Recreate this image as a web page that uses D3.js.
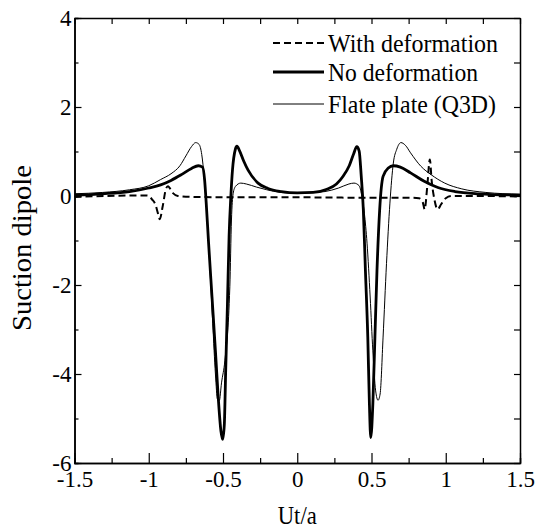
<!DOCTYPE html>
<html>
<head>
<meta charset="utf-8">
<title>Suction dipole</title>
<script src="https://cdn.jsdelivr.net/npm/d3@7"></script>
<style>
  body { margin: 0; background: #fff; }
</style>
</head>
<body>
<script>
// values
var withDefX = [-1.5, -1.3, -1.08, -1.01, -0.977, -0.954, -0.938, -0.926, -0.906, -0.885, -0.871, -0.839, -0.804, -0.712, -0.4, 0, 0.5, 0.76, 0.82, 0.845, 0.858, 0.875, 0.893, 0.905, 0.925, 0.945, 0.97, 1.0, 1.04, 1.22, 1.5];
var withDefY = [-0.02, 0.0, 0.01, 0.01, -0.08, -0.2, -0.39, -0.52, -0.23, 0.15, 0.22, 0.07, 0.0, -0.02, -0.03, -0.03, -0.04, -0.04, -0.05, -0.14, -0.3, 0.2, 0.82, 0.35, -0.1, -0.3, -0.18, -0.05, 0.0, 0.0, -0.01];

var noDefX = [-1.5, -1.31, -1.13, -1.0, -0.92, -0.85, -0.78, -0.712, -0.666, -0.638, -0.624, -0.613, -0.597, -0.574, -0.551, -0.532, -0.514, -0.502, -0.491, -0.482, -0.47, -0.459, -0.447, -0.436, -0.417, -0.406, -0.389, -0.36, -0.331, -0.264, -0.197, -0.107, 0, 0.107, 0.2, 0.264, 0.31, 0.35, 0.38, 0.401, 0.417, 0.431, 0.445, 0.459, 0.475, 0.486, 0.495, 0.509, 0.523, 0.537, 0.555, 0.578, 0.613, 0.647, 0.694, 0.763, 0.855, 0.947, 1.062, 1.223, 1.5];
var noDefY = [0.02, 0.05, 0.1, 0.18, 0.25, 0.35, 0.48, 0.62, 0.68, 0.65, 0.37, -0.16, -1.06, -2.27, -3.48, -4.53, -5.28, -5.47, -5.13, -3.93, -2.42, -0.91, 0.0, 0.59, 1.05, 1.12, 1.02, 0.78, 0.58, 0.29, 0.17, 0.1, 0.07, 0.08, 0.15, 0.27, 0.45, 0.68, 0.95, 1.11, 1.01, 0.44, -0.31, -1.67, -3.17, -4.68, -5.43, -4.68, -3.17, -1.67, -0.31, 0.44, 0.63, 0.68, 0.65, 0.52, 0.33, 0.19, 0.1, 0.05, 0.02];

var flatX = [-1.5, -1.31, -1.13, -1.0, -0.92, -0.85, -0.79, -0.75, -0.712, -0.684, -0.661, -0.643, -0.627, -0.613, -0.592, -0.569, -0.551, -0.537, -0.525, -0.51, -0.487, -0.454, -0.443, -0.432, -0.415, -0.38, -0.343, -0.274, -0.205, -0.113, 0, 0.071, 0.187, 0.279, 0.348, 0.382, 0.417, 0.433, 0.452, 0.47, 0.491, 0.509, 0.528, 0.544, 0.558, 0.578, 0.601, 0.624, 0.647, 0.67, 0.698, 0.728, 0.763, 0.832, 0.901, 0.993, 1.108, 1.27, 1.5];
var flatY = [0.05, 0.08, 0.14, 0.23, 0.37, 0.5, 0.68, 0.9, 1.11, 1.2, 1.16, 0.93, 0.44, -0.16, -1.37, -2.87, -4.0, -4.57, -4.6, -4.2, -3.69, -2.04, -0.54, 0.05, 0.22, 0.29, 0.27, 0.2, 0.14, 0.08, 0.06, 0.07, 0.1, 0.18, 0.27, 0.29, 0.23, 0.03, -0.39, -1.06, -2.27, -3.48, -4.38, -4.59, -4.45, -3.17, -1.52, -0.16, 0.74, 1.05, 1.2, 1.14, 0.97, 0.67, 0.48, 0.29, 0.16, 0.08, 0.04];

var seriesNames = ["With deformation", "No deformation", "Flate plate (Q3D)"];
var xMajor = [-1.5, -1, -0.5, 0, 0.5, 1, 1.5];
var xMinor = [-1.25, -0.75, -0.25, 0.25, 0.75, 1.25];
var yMajor = [-6, -4, -2, 0, 2, 4];
var yMinor = [-5, -3, -1, 1, 3];

var serif = "Liberation Serif";

// dimensions
var margin = {top: 18, right: 15, bottom: 65, left: 74.5},
    width = 535 - margin.left - margin.right,
    height = 528 - margin.top - margin.bottom;

var x = d3.scaleLinear().domain([-1.5, 1.5]).range([0, width]);
var y = d3.scaleLinear().domain([-6, 4]).range([height, 0]);

var svg = d3.select("body").append("svg")
    .attr("width", 535)
    .attr("height", 528)
    .attr("font-family", serif)
  .append("g")
    .attr("transform", "translate(" + margin.left + "," + margin.top + ")");

svg.append("clipPath").attr("id", "clip")
  .append("rect").attr("width", width).attr("height", height);

function zip(xs, ys) { return xs.map(function (v, i) { return [v, ys[i]]; }); }

var line = d3.line()
    .x(function (d) { return x(d[0]); })
    .y(function (d) { return y(d[1]); })
    .curve(d3.curveMonotoneX);

var styles = [
  {w: 2, dash: "7,4"},
  {w: 2.8, dash: null},
  {w: 1, dash: null}
];
var data = [zip(withDefX, withDefY), zip(noDefX, noDefY), zip(flatX, flatY)];

var plot = svg.append("g").attr("clip-path", "url(#clip)");
// thin first so the thick line sits on top
[2, 1, 0].forEach(function (i) {
  plot.append("path")
    .datum(data[i])
    .attr("fill", "none")
    .attr("stroke", "#000")
    .attr("stroke-width", styles[i].w)
    .attr("stroke-dasharray", styles[i].dash)
    .attr("stroke-linejoin", "round")
    .attr("d", line);
});

// plain hyphen, like the original
var fmt = function (d) { return String(d); };

function styleAxis(g) {
  g.attr("font-family", serif).attr("font-size", 23);
  g.selectAll("path.domain").attr("stroke", "#000").attr("stroke-width", 1.5);
  g.selectAll(".tick line").attr("stroke", "#000").attr("stroke-width", 1.2);
  g.selectAll("text").attr("fill", "#000").attr("font-family", serif);
}

// axes, ticks inside
svg.append("g").attr("transform", "translate(0," + height + ")")
  .call(d3.axisBottom(x).tickValues(xMinor).tickSize(-5).tickFormat(""))
  .call(styleAxis);
svg.append("g").attr("transform", "translate(0," + height + ")")
  .call(d3.axisBottom(x).tickValues(xMajor).tickSizeInner(-10).tickSizeOuter(0).tickPadding(8).tickFormat(fmt))
  .call(styleAxis);

svg.append("g")
  .call(d3.axisTop(x).tickValues(xMinor.concat(xMajor)).tickSizeInner(-6).tickSizeOuter(0).tickFormat(""))
  .call(styleAxis);

svg.append("g")
  .call(d3.axisLeft(y).tickValues(yMinor).tickSize(-4).tickFormat(""))
  .call(styleAxis);
svg.append("g")
  .call(d3.axisLeft(y).tickValues(yMajor).tickSizeInner(-7).tickSizeOuter(0).tickPadding(3).tickFormat(fmt))
  .call(styleAxis);

svg.append("g").attr("transform", "translate(" + width + ",0)")
  .call(d3.axisRight(y).tickValues(yMinor.concat(yMajor)).tickSizeInner(-6).tickSizeOuter(0).tickFormat(""))
  .call(styleAxis);

// axis titles
svg.append("text")
  .attr("x", x(0)).attr("y", height + 61)
  .attr("text-anchor", "middle")
  .attr("font-family", serif)
  .attr("font-size", 25)
  .attr("textLength", 39).attr("lengthAdjust", "spacingAndGlyphs")
  .text("Ut/a");

svg.append("text")
  .attr("transform", "translate(" + (31 - margin.left) + "," + (248 - margin.top) + ") rotate(-90)")
  .attr("text-anchor", "middle")
  .attr("font-family", serif)
  .attr("font-size", 27)
  .attr("textLength", 166).attr("lengthAdjust", "spacingAndGlyphs")
  .text("Suction dipole");

// legend
var legY = [43, 72, 104];
var legLen = [170, 150, 168];
seriesNames.forEach(function (name, i) {
  var g = svg.append("g").attr("transform", "translate(0," + (legY[i] - margin.top) + ")");
  g.append("line")
    .attr("x1", 273 - margin.left).attr("x2", 324 - margin.left)
    .attr("stroke", "#000")
    .attr("stroke-width", styles[i].w)
    .attr("stroke-dasharray", styles[i].dash);
  g.append("text")
    .attr("x", 328 - margin.left).attr("y", 9)
    .attr("font-family", serif)
    .attr("font-size", 25)
    .attr("textLength", legLen[i]).attr("lengthAdjust", "spacingAndGlyphs")
    .text(name);
});
</script>
</body>
</html>
